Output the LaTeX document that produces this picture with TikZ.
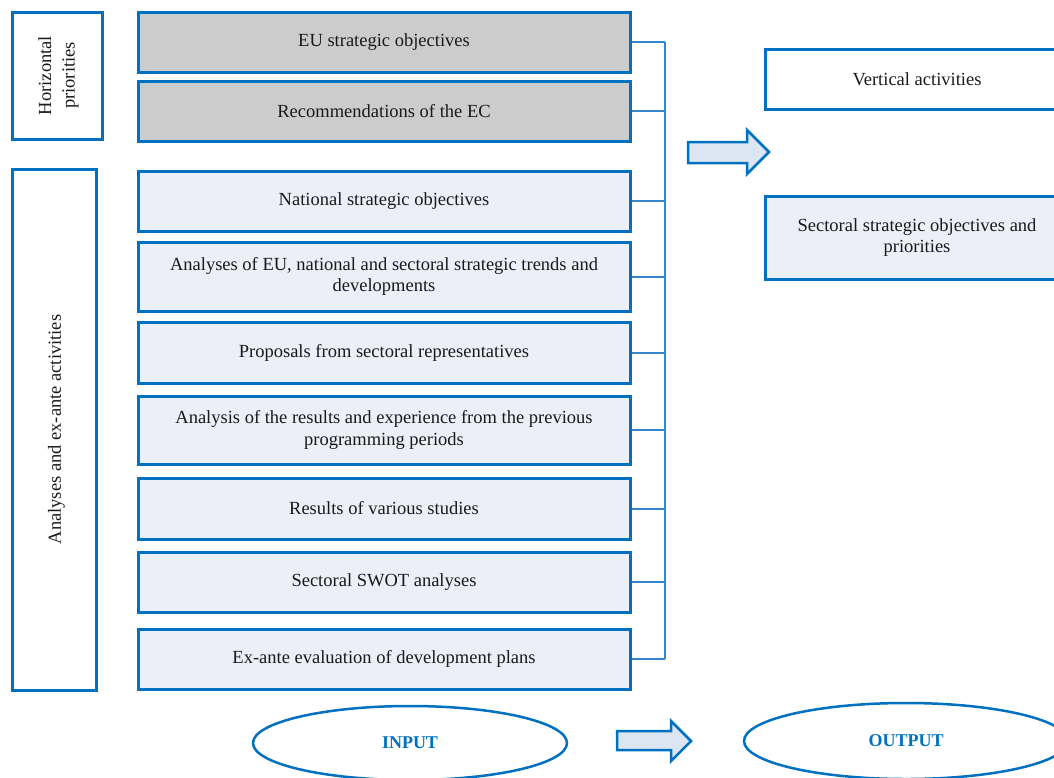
\documentclass[tikz,border=0pt]{standalone}
\usepackage{fontspec}
\setmainfont{Liberation Serif}
\usetikzlibrary{shapes.geometric}
\definecolor{bblue}{HTML}{0070C0}
\definecolor{lblue}{HTML}{3585CC}
\definecolor{grayfill}{HTML}{CCCCCC}
\definecolor{lightfill}{HTML}{ECEFF7}
\definecolor{arrowfill}{HTML}{DCE6F2}
\definecolor{txt}{HTML}{1A1A1A}
\tikzset{
  box/.style={draw=bblue, line width=3pt, inner sep=0pt, align=center, text=txt,
    font=\fontsize{18.5}{21.5}\selectfont},
  graybox/.style={box, fill=grayfill, minimum width=492pt},
  lightbox/.style={box, fill=lightfill, minimum width=492pt},
  sidebox/.style={box, fill=white},
  link/.style={draw=lblue, line width=2pt},
  blockarrow/.style={draw=bblue, line width=2.5pt, fill=arrowfill, line join=miter},
  oval/.style={ellipse, draw=bblue, line width=2.5pt, inner sep=0pt, text=bblue,
    font=\fontsize{18}{21}\selectfont\bfseries},
}
\begin{document}
\begin{tikzpicture}[x=1pt,y=-1pt]
\useasboundingbox (0,0) rectangle (1054,777);
\clip (0,0) rectangle (1054,777);

% left side boxes
\node[sidebox, minimum width=90pt, minimum height=127pt] (hp) at (57,75.5) {};
\node[rotate=90, align=center, text=txt, font=\fontsize{18.5}{23.5}\selectfont] (hpt) at ([xshift=1.5pt]hp.center) {Horizontal\\priorities};
\node[sidebox, minimum width=84pt, minimum height=521pt] (aea) at (54.5,429.5) {};
\node[rotate=90, text=txt, font=\fontsize{18.5}{21.5}\selectfont] (aeat) at ([xshift=2pt]aea.center) {Analyses and ex-ante activities};

% centre boxes
\node[graybox, minimum height=60pt] (eu) at (384,42) {EU strategic objectives};
\node[graybox, minimum height=60pt] (rec) at (384,111) {Recommendations of the EC};
\node[lightbox, minimum height=60pt] (nat) at (384,201) {National strategic objectives};
\node[lightbox, minimum height=69pt] (ana) at (384,276.5) {Analyses of EU, national and sectoral strategic trends and\\developments};
\node[lightbox, minimum height=61pt] (pro) at (384,352.5) {Proposals from sectoral representatives};
\node[lightbox, minimum height=68pt] (res) at (384,430) {Analysis of the results and experience from the previous\\programming periods};
\node[lightbox, minimum height=61pt] (stu) at (384,508.5) {Results of various studies};
\node[lightbox, minimum height=60pt] (swot) at (384,582) {Sectoral SWOT analyses};
\node[lightbox, minimum height=60pt] (exa) at (384,659) {Ex-ante evaluation of development plans};

% bracket
\coordinate (brk) at (665,0);
\foreach \n in {eu,rec,nat,ana,pro,res,stu,swot,exa}{
  \draw[link] (\n.east) -- (\n.east -| brk);
}
\draw[link] (eu.east -| brk) -- (exa.east -| brk);

% big arrow
\draw[blockarrow] (688,142) -- (747,142) -- (747,130) -- (769,152) -- (747,174) -- (747,163) -- (688,163) -- cycle;

% right boxes
\node[sidebox, minimum width=304pt, minimum height=60pt] (vert) at (917,79) {Vertical activities};
\node[box, fill=lightfill, minimum width=304pt, minimum height=83pt] (sect) at (917,237.5) {Sectoral strategic objectives and\\priorities};

% bottom
\node[oval, minimum width=314pt, minimum height=74pt] (in) at (410,743) {INPUT};
\node[oval, minimum width=324pt, minimum height=76pt] (out) at (906,741) {OUTPUT};
\draw[blockarrow] (617,731) -- (671,731) -- (671,721) -- (691,741) -- (671,761) -- (671,750) -- (617,750) -- cycle;
\end{tikzpicture}
\end{document}
